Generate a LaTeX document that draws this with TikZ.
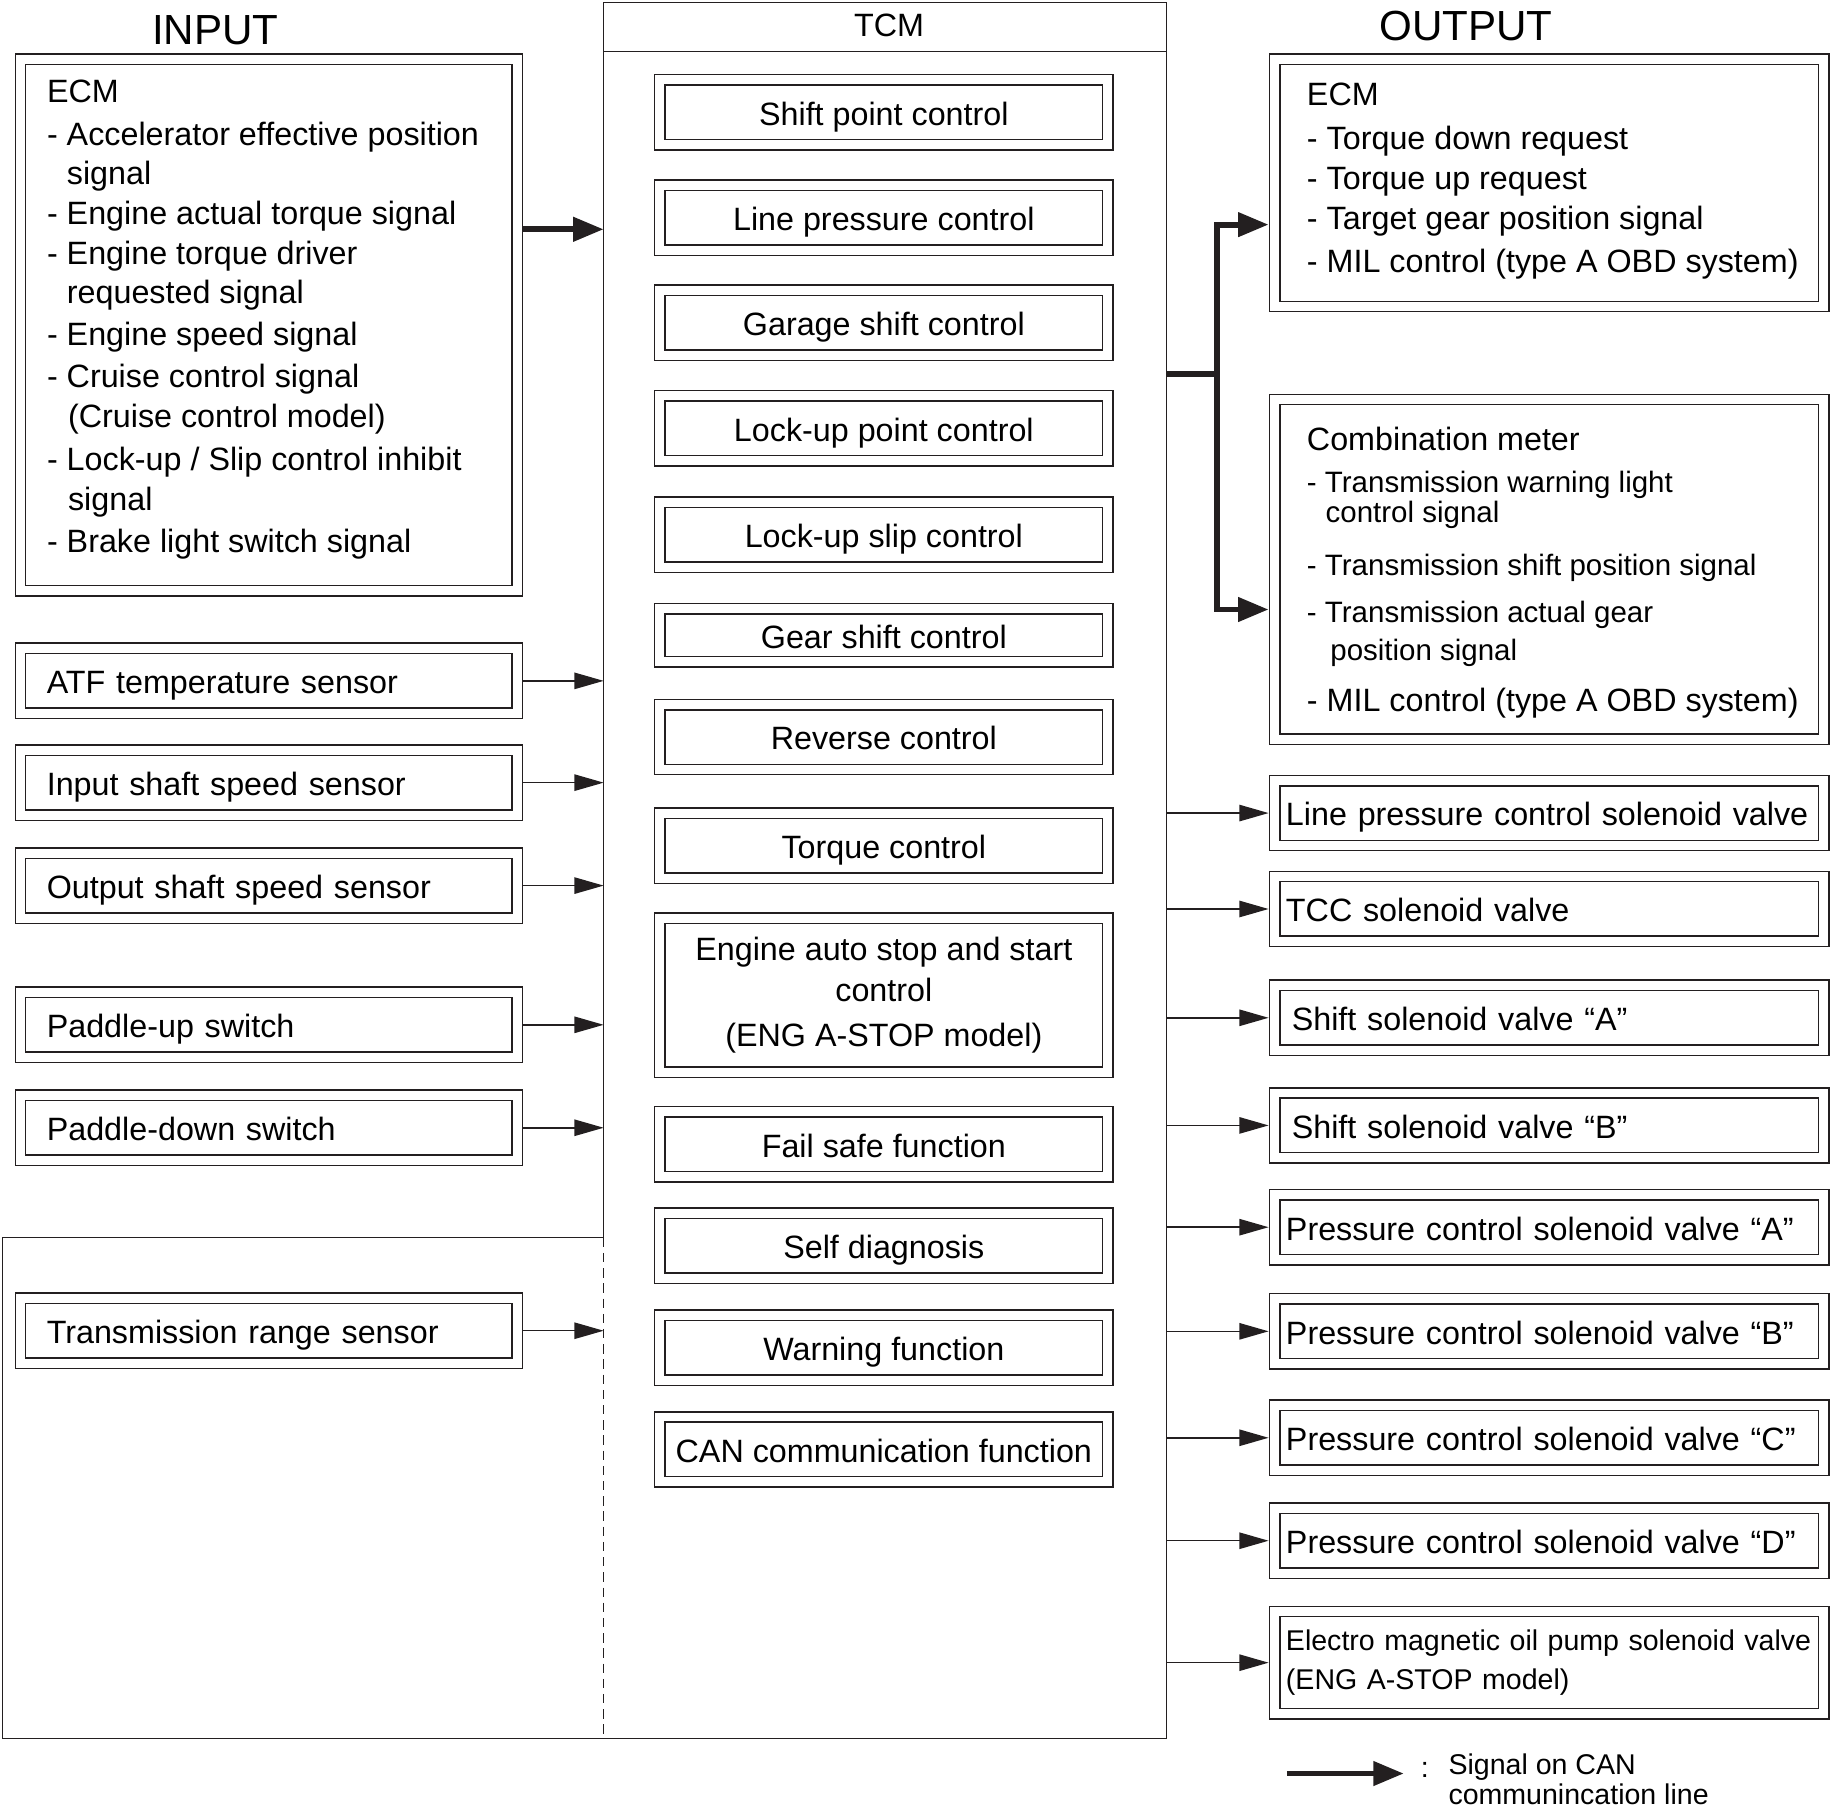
\documentclass[tikz,border=0pt]{standalone}
\usepackage{fontspec}
\setmainfont{Liberation Sans}
\usetikzlibrary{arrows.meta}

\definecolor{ink}{HTML}{231F20}
\newcommand{\titlefont}{\fontsize{36}{40}\selectfont}
\newcommand{\boxfont}{\fontsize{27.6}{34.8}\selectfont}
\newcommand{\itemfont}{\fontsize{25.2}{30}\selectfont}
\newcommand{\legfont}{\fontsize{24.4}{26}\selectfont}

\tikzset{
  frame/.style={draw=ink,line width=1.3pt},
  dbl/.style={draw=ink,line width=1.3pt,double=white,double distance=7.6pt,outer sep=5.1pt,inner sep=0pt},
  oneline/.style={text height=27.8pt,text depth=5.8pt},
  sensorbox/.style={dbl,oneline,minimum height=55.5pt,text width=379.5pt,inner xsep=22.5pt,align=left,font=\boxfont},
  funcbox/.style={dbl,minimum width=383pt,minimum height=55.5pt,align=center,font=\boxfont},
  valvebox/.style={dbl,minimum height=55.5pt,text width=450pt,inner xsep=9.75pt,align=left,font=\boxfont},
  itemtext/.style={anchor=base west,inner sep=0pt},
  sig/.style={draw=ink,line width=1.3pt,-{Triangle[length=25pt,width=14pt]}},
  canline/.style={draw=ink,line width=5pt},
  can/.style={canline,-{Triangle[length=26pt,width=20pt]}}
}

\begin{document}
\begin{tikzpicture}[x=1pt,y=-1pt,line join=miter]
\useasboundingbox (0,0) rectangle (1566,1550.6);

% TCM frame, lower part shared with the range sensor area
\node[minimum width=481pt,minimum height=1484pt,inner sep=0pt,outer sep=0pt] (tcm) at (756.5,744) {};
\draw[frame] (tcm.west |- 0,1058) -- (tcm.north west) -- (tcm.north east) -- (tcm.south east)
   -- (2,1486) -- (2,1058) -- cycle;
\draw[frame,dash pattern=on 8pt off 5pt] (tcm.west |- 0,1058) -- (tcm.south west);
\draw[frame] (tcm.west |- 0,44) -- (tcm.east |- 0,44);
\node[font=\boxfont] (tcmname) at (760,22) {TCM};

\node[font=\titlefont] (intitle) at (184,26) {INPUT};
\node[font=\titlefont] (outtitle) at (1253,22) {OUTPUT};

% input side
\node[dbl,minimum width=424.5pt,minimum height=454.5pt] (ecmin) at (229.75,277.75) {};
\foreach \x/\y/\lbl in %
{40/88/ECM,40/124/{- Accelerator effective position},57/158/signal,
 40/192/{- Engine actual torque signal},40/226/{- Engine torque driver},57/259/requested signal,
 40/295/{- Engine speed signal},40/331/{- Cruise control signal},58/365/(Cruise control model),
 40/402/{- Lock-up / Slip control inhibit},58/436/signal,40/472/{- Brake light switch signal}} {
   \node[itemtext,font=\boxfont] (ecmin\y) at (\x,\y) {\lbl};
}
\draw[can] (ecmin.east |- 0,196) -- (tcm.west |- 0,196);

\foreach \y/\nm/\lbl in %
{582/atf/ATF temperature sensor,669/iss/Input shaft speed sensor,757/oss/Output shaft speed sensor,
 876/pup/Paddle-up switch,964/pdn/Paddle-down switch,1137.5/trs/Transmission range sensor} {
   \node[sensorbox] (\nm) at (229.75,\y) {\lbl};
   \draw[sig] (\nm.east) -- (\nm.east -| tcm.west);
}

% TCM functions
\foreach \y/\lbl in %
{96/Shift point control,186/Line pressure control,276/Garage shift control,
 366/Lock-up point control,457/Lock-up slip control,630/Reverse control,723/Torque control,
 978/Fail safe function,1065/Self diagnosis,1152/Warning function,1239/CAN communication function} {
   \node[funcbox,oneline] (fn\y) at (755.5,\y) {\lbl};
}
\node[funcbox,oneline,minimum height=45.5pt] (fn543) at (755.5,543) {Gear shift control};
\node[funcbox,minimum height=131.5pt] (fn851) at (755.5,850.75)
   {Engine auto stop and start\\control\\[4pt](ENG A-STOP model)};

% output side
\node[dbl,minimum width=469.5pt,minimum height=211.5pt] (ecmout) at (1324.25,156.25) {};
\foreach \y/\lbl in %
{90/ECM,128/{- Torque down request},162/{- Torque up request},
 196/{- Target gear position signal},233/{- MIL control (type A OBD system)}} {
   \node[itemtext,font=\boxfont] (ecmout\y) at (1117,\y) {\lbl};
}
\node[dbl,minimum width=469.5pt,minimum height=290.5pt] (meter) at (1324.25,486.75) {};
\foreach \x/\y/\fnt/\lbl in %
{1117/385/\boxfont/Combination meter,1117/421/\itemfont/{- Transmission warning light},
 1133/447/\itemfont/control signal,1117/492/\itemfont/{- Transmission shift position signal},
 1117/532/\itemfont/{- Transmission actual gear},1137/565/\itemfont/position signal,
 1117/608/\boxfont/{- MIL control (type A OBD system)}} {
   \node[itemtext] (meter\y) at (\x,\y) {\fnt\lbl};
}
\coordinate (canfork) at (1040,320);
\draw[canline] (canfork -| tcm.east) -- (canfork);
\draw[can] (canfork) |- (ecmout.west |- 0,192);
\draw[can] (canfork) |- (meter.west |- 0,521);

\foreach \y/\nm/\lbl in %
{695/lpv/Line pressure control solenoid valve,777/tcc/TCC solenoid valve,
 870/ssa/{\hspace*{5pt}Shift solenoid valve “A”},962/ssb/{\hspace*{5pt}Shift solenoid valve “B”},
 1049/pca/{Pressure control solenoid valve “A”},1138/pcb/{Pressure control solenoid valve “B”},
 1229/pcc/{Pressure control solenoid valve “C”},1317/pcd/{Pressure control solenoid valve “D”}} {
   \node[valvebox,oneline] (\nm) at (1324.25,\y) {\lbl};
   \draw[sig] (tcm.east |- \nm.west) -- (\nm.west);
}
\node[valvebox,minimum height=87.5pt,font=\fontsize{24.4}{33}\selectfont] (eop) at (1324.25,1421.25)
   {Electro magnetic oil pump solenoid valve\\(ENG A-STOP model)};
\draw[sig] (tcm.east |- eop.west) -- (eop.west);

% legend
\coordinate (legfrom) at (1100,1516);
\coordinate (legto) at (1200,1516);
\draw[can] (legfrom) -- (legto);
\node[font=\legfont] (legcolon) at (1218,1513) {:};
\node[anchor=west,align=left,font=\legfont,inner sep=0pt] (legtext) at (1238,1521)
   {Signal on CAN\\communincation line};
\end{tikzpicture}
\end{document}
